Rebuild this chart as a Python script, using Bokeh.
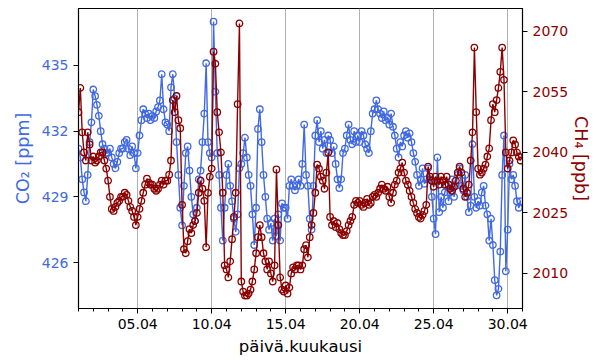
import numpy as np
from bokeh.plotting import figure
from bokeh.models import Range1d, LinearAxis, FixedTicker
from bokeh.embed import file_html
from bokeh.resources import INLINE

# 3-hourly samples, 1.4. 00:00 -> 30.4. 21:00
co2 = [
    431.2, 430.8, 429.8, 429.2, 428.8, 430.0, 431.5, 432.4,
    433.9, 433.6, 433.2, 432.7, 432.0, 431.4, 431.2, 431.0,
    431.0, 431.2, 430.8, 430.5, 430.3, 430.6, 431.0, 431.2,
    431.2, 431.5, 431.6, 431.2, 430.9, 431.3, 431.0, 430.3,
    431.0, 431.8, 432.5, 433.0, 432.8, 432.6, 432.8, 432.5,
    432.7, 432.6, 432.9, 433.1, 433.4, 434.6, 433.0, 432.4,
    432.3, 432.0, 434.0, 434.6, 433.5, 431.5, 430.0, 428.5,
    427.7, 429.5, 431.0, 431.3, 430.2, 429.0, 428.2, 427.9,
    428.5, 429.8, 430.2, 431.5, 432.8, 435.1, 431.5, 431.0,
    430.8, 437.0, 433.8, 431.0, 430.0, 428.5, 427.0, 428.5,
    430.0, 430.5, 429.5, 428.8, 428.0, 427.4, 428.2, 430.3,
    430.5, 431.0, 431.7, 430.8, 430.0, 429.5, 428.2, 426.8,
    428.5, 432.1, 433.0, 431.5, 430.0, 429.0, 428.0, 427.5,
    427.8, 427.0, 428.0, 427.2, 428.2, 427.0, 428.7, 428.5,
    428.5, 428.0, 429.5, 429.8, 429.5, 429.3, 429.5, 429.8,
    429.5, 430.5, 432.3, 430.0, 429.5, 428.0, 427.5, 429.5,
    431.8, 432.5, 431.5, 432.0, 431.2, 431.6, 431.0, 431.8,
    431.6, 431.0, 431.3, 430.5, 429.8, 429.4, 429.8, 431.0,
    431.2, 431.8, 432.3, 431.6, 431.4, 432.0, 431.5, 431.8,
    431.5, 432.0, 431.8, 431.4, 431.2, 431.0, 432.0, 432.8,
    433.0, 433.4, 433.0, 432.8, 432.6, 432.9, 432.5, 432.6,
    432.3, 432.8, 432.2, 431.8, 431.2, 430.8, 431.5, 431.3,
    431.8, 432.0, 431.7, 431.9, 431.5, 431.0, 430.6, 430.0,
    429.5, 429.8, 430.3, 429.6, 429.8, 430.3, 429.8, 429.0,
    428.0, 427.3, 430.8, 428.3, 429.0, 428.5, 429.2, 429.5,
    428.8, 429.2, 429.8, 429.0, 429.5, 430.0, 430.3, 429.5,
    429.3, 430.0, 429.0, 428.3, 428.6, 431.4, 429.0, 428.5,
    428.8, 428.6, 429.2, 429.5, 428.6, 428.2, 427.0, 428.0,
    426.8, 425.2, 424.5, 424.8, 426.5, 430.0, 431.8, 425.6,
    427.5, 430.5, 429.8, 430.0, 429.5, 428.8, 428.5, 428.8,
]

ch4 = [
    2050, 2056, 2045, 2040, 2038, 2045, 2042, 2038,
    2039, 2037.5, 2038, 2039, 2040, 2040, 2038, 2036,
    2033, 2029, 2026, 2025.5, 2026.5, 2027.5, 2028, 2029,
    2029, 2030, 2029.5, 2028, 2026.5, 2025.5, 2024, 2022,
    2024, 2026, 2028, 2030, 2032, 2033.5, 2032.5, 2032,
    2032, 2031, 2030.5, 2031, 2032, 2033, 2032, 2033,
    2033, 2034.5, 2038, 2053, 2050, 2054, 2048, 2046,
    2027, 2016, 2015, 2018, 2021, 2020, 2022, 2023,
    2025, 2030, 2033, 2031, 2028, 2016.5, 2030, 2034,
    2036, 2065, 2062, 2050, 2045, 2040, 2030, 2012,
    2011, 2009, 2013, 2018.5, 2024, 2030, 2052, 2072,
    2008, 2005.5, 2004.5, 2004.5, 2005, 2006, 2008, 2011,
    2015, 2019, 2022, 2019, 2015, 2013, 2011, 2013,
    2010, 2008, 2012, 2035.8, 2022, 2009, 2006, 2005.5,
    2007, 2005, 2006.5, 2010, 2011.5, 2011, 2012, 2012,
    2011, 2012, 2016, 2017, 2014, 2019, 2022, 2025,
    2030, 2037, 2036, 2034, 2033, 2031, 2035, 2040,
    2024, 2022, 2023, 2021.5, 2022.5, 2021, 2020, 2019.5,
    2019.5, 2020.5, 2022, 2023, 2024, 2027, 2028, 2027.5,
    2028, 2027, 2026.5, 2027.5, 2028.5, 2027, 2027.5, 2029,
    2029.5, 2029, 2030, 2031, 2032, 2031, 2030.5, 2031.5,
    2029, 2027.5, 2030, 2032, 2033, 2035, 2036, 2037.5,
    2035, 2033, 2032, 2030.5, 2029, 2027.5, 2026, 2025,
    2024, 2023.6, 2024.5, 2025.5, 2027, 2036.5, 2034, 2033,
    2031.5, 2034, 2033, 2032, 2034, 2033, 2032, 2034,
    2032, 2031, 2030.5, 2031.5, 2033, 2035, 2036.5, 2035,
    2031, 2029, 2030, 2032, 2038, 2045, 2066, 2050,
    2036, 2034.5, 2035, 2036, 2037, 2039, 2041, 2048,
    2052, 2050, 2053, 2056, 2060, 2066, 2058, 2040,
    2036, 2038, 2040, 2043, 2042, 2040, 2039, 2038,
]

samples_per_day = 8
first_day = 1
x_ticks = [5, 10, 15, 20, 25, 30]
x_tick_labels = ["05.04", "10.04", "15.04", "20.04", "25.04", "30.04"]
co2_ticks = [426, 429, 432, 435]
ch4_ticks = [2010, 2025, 2040, 2055, 2070]

t = first_day + np.arange(len(co2)) / samples_per_day

BLUE = "#4169E1"
RED = "#8B0000"
FONT = "DejaVu Sans"

p = figure(width=598, height=358, output_backend="svg", toolbar_location=None,
           x_range=Range1d(1, 31), y_range=Range1d(423.9, 437.6))
p.min_border_left = 78
p.min_border_right = 76
p.min_border_top = 8
p.min_border_bottom = 50
p.extra_y_ranges = {"ch4": Range1d(2001.3, 2075.7)}
p.outline_line_color = "black"
p.outline_line_width = 1.2
p.background_fill_color = "white"
p.border_fill_color = "white"

# grid
p.ygrid.visible = False
p.xgrid.ticker = FixedTicker(ticks=x_ticks)
p.xgrid.grid_line_color = "#b0b0b0"
p.xgrid.grid_line_width = 1

# x axis
xa = p.xaxis[0]
xa.ticker = FixedTicker(ticks=x_ticks, minor_ticks=list(range(1, 32)))
xa.major_label_overrides = {k: v for k, v in zip(x_ticks, x_tick_labels)}
xa.axis_label = "päivä.kuukausi"
xa.axis_label_text_color = "black"
xa.axis_label_text_font = FONT
xa.axis_label_text_font_size = "16.5px"
xa.axis_label_text_font_style = "normal"
xa.axis_label_standoff = 5
xa.major_label_text_color = "black"
xa.major_label_text_font = FONT
xa.major_label_text_font_size = "14px"
xa.major_label_standoff = 5
xa.major_tick_out = 5
xa.major_tick_in = 0
xa.minor_tick_out = 3
xa.minor_tick_in = 0
xa.major_tick_line_color = "black"
xa.minor_tick_line_color = "black"
xa.axis_line_color = "black"

# left axis
ya = p.yaxis[0]
ya.ticker = FixedTicker(ticks=co2_ticks, minor_ticks=[])
ya.axis_label = "CO₂ [ppm]"
ya.axis_label_text_color = BLUE
ya.axis_label_text_font = FONT
ya.axis_label_text_font_size = "17.5px"
ya.axis_label_text_font_style = "normal"
ya.axis_label_standoff = 6
ya.major_label_text_color = BLUE
ya.major_label_text_font = FONT
ya.major_label_text_font_size = "14px"
ya.major_label_standoff = 5
ya.major_tick_out = 5
ya.major_tick_in = 0
ya.major_tick_line_color = "black"
ya.minor_tick_line_color = None
ya.axis_line_color = "black"

# right axis
ra = LinearAxis(y_range_name="ch4")
ra.ticker = FixedTicker(ticks=ch4_ticks, minor_ticks=[])
ra.axis_label = "CH₄ [ppb]"
ra.axis_label_text_color = RED
ra.axis_label_text_font = FONT
ra.axis_label_text_font_size = "17.5px"
ra.axis_label_text_font_style = "normal"
ra.axis_label_standoff = 0
ra.major_label_text_color = RED
ra.major_label_text_font = FONT
ra.major_label_text_font_size = "14px"
ra.major_label_standoff = 5
ra.major_tick_out = 5
ra.major_tick_in = 0
ra.major_tick_line_color = "black"
ra.minor_tick_line_color = None
ra.axis_line_color = "black"
p.add_layout(ra, "right")

# data
p.line(t, co2, line_color=BLUE, line_width=1.4)
p.scatter(t, co2, marker="circle", size=6.5, line_color=BLUE, fill_color=None, line_width=1.3)
p.line(t, ch4, line_color=RED, line_width=1.4, y_range_name="ch4")
p.scatter(t, ch4, marker="circle", size=6.5, line_color=RED, fill_color=None, line_width=1.3,
          y_range_name="ch4")

open("out.html", "w").write(file_html(p, INLINE))
